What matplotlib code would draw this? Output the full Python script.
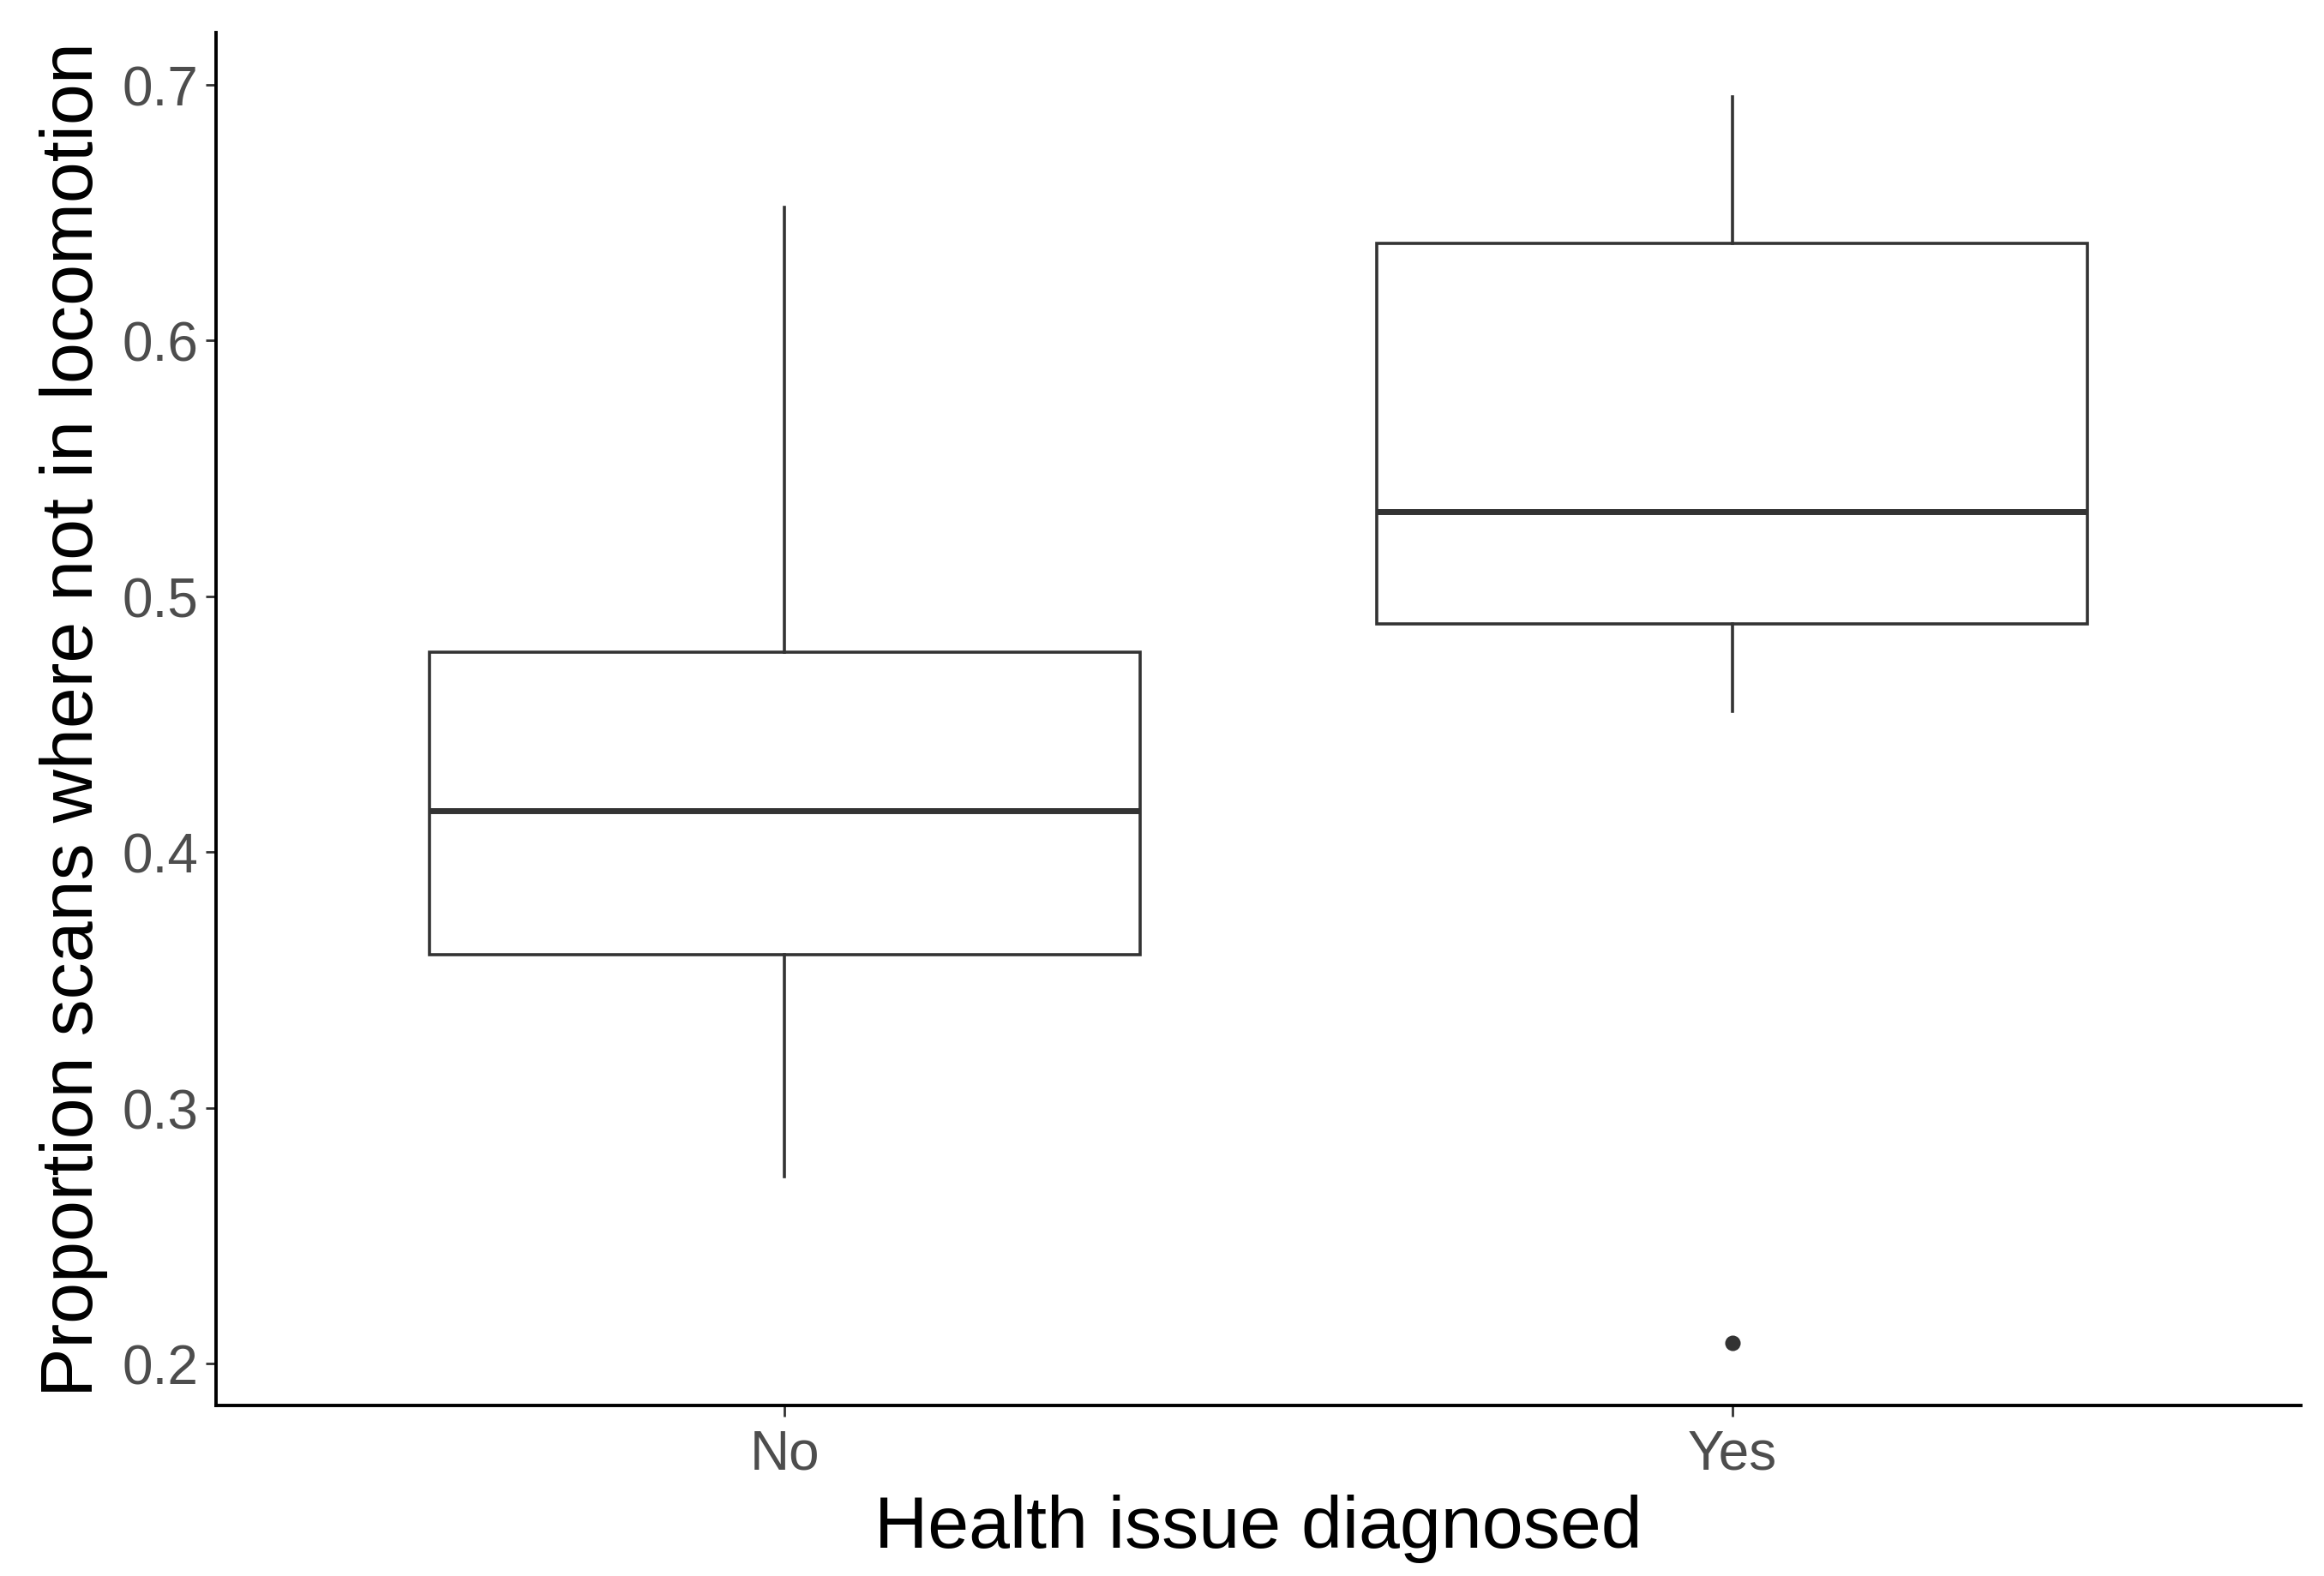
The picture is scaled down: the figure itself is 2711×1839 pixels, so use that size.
import numpy as np
import matplotlib.pyplot as plt

# values
groups = ['No', 'Yes']
whisker_low = [0.273, 0.455]
q1 = [0.360, 0.489]
median = [0.416, 0.533]
q3 = [0.478, 0.638]
whisker_high = [0.652, 0.695]
outliers = [[], [0.208]]

yticks = [0.2, 0.3, 0.4, 0.5, 0.6, 0.7]

plt.rcParams['font.family'] = ['Liberation Sans', 'DejaVu Sans']

fig = plt.figure(figsize=(13.555, 9.2), dpi=200)
ax = fig.add_axes([0.093, 0.108, 0.897, 0.871])

stats = []
for i, g in enumerate(groups):
    stats.append({'label': g, 'whislo': whisker_low[i], 'q1': q1[i], 'med': median[i],
                  'q3': q3[i], 'whishi': whisker_high[i], 'fliers': outliers[i]})

ax.bxp(stats, positions=[1, 2], widths=0.75, showcaps=False, patch_artist=True,
       boxprops=dict(facecolor='white', edgecolor='#333333', linewidth=1.3),
       whiskerprops=dict(color='#333333', linewidth=1.3),
       medianprops=dict(color='#333333', linewidth=2.5, solid_capstyle='butt'),
       flierprops=dict(marker='o', markerfacecolor='#333333', markeredgecolor='#333333',
                       markersize=5.5, linestyle='none'))

ax.set_xlim(0.4, 2.6)
ax.set_ylim(0.1836, 0.7204)
ax.set_yticks(yticks)
ax.set_yticklabels([f'{t:.1f}' for t in yticks])
ax.set_xticks([1, 2])
ax.set_xticklabels(groups)

for s in ['top', 'right']:
    ax.spines[s].set_visible(False)
for s in ['left', 'bottom']:
    ax.spines[s].set_linewidth(1.4)
    ax.spines[s].set_color('black')

ax.tick_params(axis='both', length=4.5, width=1.0, color='#333333',
               labelsize=23, labelcolor='#4D4D4D')
ax.tick_params(axis='x', pad=5)
ax.tick_params(axis='y', pad=3)

ax.set_xlabel('Health issue diagnosed', fontsize=31, labelpad=6)
ax.set_ylabel('Proportion scans where not in locomotion', fontsize=31, labelpad=6)

fig.savefig('out.png', dpi=200, facecolor='white')
